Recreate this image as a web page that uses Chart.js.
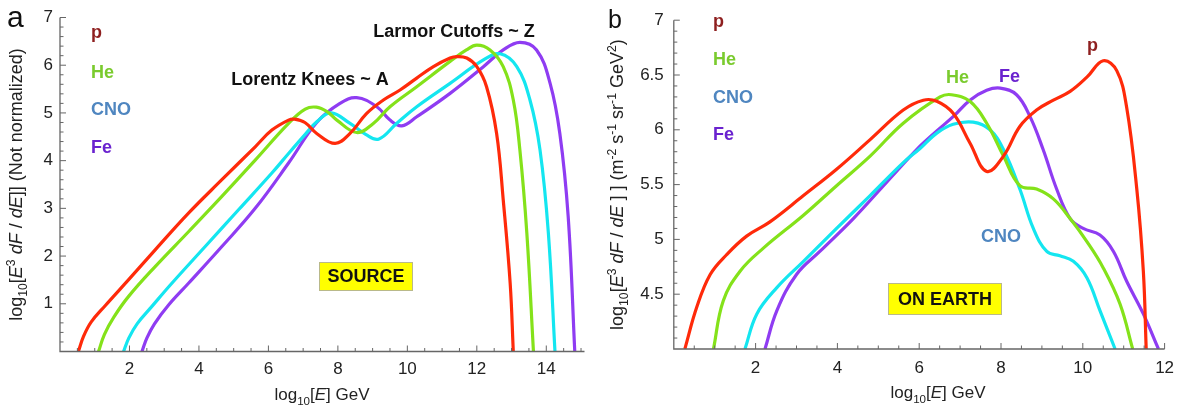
<!DOCTYPE html>
<html><head><meta charset="utf-8">
<script src="https://cdn.jsdelivr.net/npm/chart.js@4.4.0/dist/chart.umd.min.js"></script>
<style>
html,body{margin:0;padding:0;background:#fff;}
#wrap{position:relative;width:1192px;height:412px;overflow:hidden;}
.pane{position:absolute;top:0;width:596px;height:412px;}
</style></head><body>
<div id="wrap">
<div class="pane" style="left:0"><canvas id="ca" width="596" height="412"></canvas></div>
<div class="pane" style="left:596px"><canvas id="cb" width="596" height="412"></canvas></div>
</div>
<script>
// ---------- Panel a (SOURCE) ----------
const aP_x  = [0.53,0.68,0.90,1.30,1.97,2.74,3.70,4.66,5.62,6.10,6.58,6.75,7.05,7.39,7.92,8.35,8.83,9.31,9.79,10.27,10.75,11.23,11.42,11.71,12.00,12.28,12.57,12.76,12.96,13.05];
const aP_y  = [0,0.32,0.62,0.96,1.50,2.13,2.90,3.60,4.29,4.64,4.85,4.87,4.80,4.57,4.36,4.57,4.99,5.27,5.48,5.73,5.97,6.15,6.18,6.15,5.97,5.55,4.57,3.18,1.43,0];
const aHe_x = [1.11,1.28,1.55,1.97,2.74,3.70,4.66,5.62,6.58,7.06,7.38,7.70,7.97,8.54,9.02,9.50,10.27,11.23,11.70,12.00,12.38,12.76,13.05,13.24,13.44,13.63];
const aHe_y = [0,0.36,0.72,1.15,1.78,2.51,3.25,4.01,4.78,5.08,5.12,5.02,4.85,4.59,4.78,5.13,5.55,6.08,6.32,6.42,6.32,5.97,5.27,4.22,2.48,0];
const aCNO_x= [1.83,1.98,2.22,2.64,3.22,4.18,5.14,6.10,6.58,7.06,7.40,7.80,8.35,8.80,9.17,9.69,10.27,11.23,12.19,12.67,13.15,13.53,13.82,14.06,14.25];
const aCNO_y= [0,0.28,0.58,0.94,1.43,2.20,2.97,3.74,4.15,4.55,4.82,5.00,4.78,4.55,4.45,4.78,5.13,5.62,6.11,6.24,5.97,5.27,4.22,2.48,0];
const aFe_x = [2.36,2.50,2.72,3.12,3.70,4.66,5.62,6.58,7.39,8.06,8.54,9.12,9.50,9.84,10.27,11.23,12.19,12.76,13.24,13.72,14.11,14.39,14.63,14.82];
const aFe_y = [0,0.28,0.58,0.97,1.43,2.20,3.00,3.95,4.80,5.20,5.32,5.13,4.85,4.73,4.92,5.41,5.97,6.32,6.48,6.32,5.62,4.57,2.83,0];
const aXTicks = [2,4,6,8,10,12,14];
const aYTicks = [1,2,3,4,5,6,7];

// ---------- Panel b (ON EARTH) ----------
const bP_x  = [0.27,0.56,0.89,1.29,1.78,2.35,3.17,3.98,4.80,5.61,6.10,6.43,6.83,7.24,7.65,8.06,8.46,8.87,9.28,9.69,10.10,10.50,10.83,11.07,11.32,11.48,11.55];
const bP_y  = [4.0,4.38,4.68,4.86,5.03,5.16,5.40,5.64,5.91,6.18,6.27,6.26,6.15,5.88,5.62,5.76,6.03,6.18,6.27,6.35,6.48,6.63,6.54,6.21,5.46,4.71,4.0];
const bHe_x = [0.97,1.21,1.62,2.19,3.17,3.98,4.80,5.61,6.51,6.79,7.24,7.65,8.06,8.46,8.87,9.28,9.69,10.10,10.50,10.91,11.22];
const bHe_y = [4.0,4.44,4.71,4.92,5.22,5.49,5.76,6.06,6.30,6.32,6.26,6.06,5.76,5.49,5.46,5.37,5.19,4.98,4.74,4.41,4.0];
const bCNO_x= [1.74,2.03,2.52,3.17,3.98,4.80,5.61,6.02,6.43,6.83,7.32,7.73,8.06,8.46,8.79,9.12,9.44,9.77,10.10,10.42,10.79];
const bCNO_y= [4.0,4.32,4.56,4.80,5.10,5.40,5.70,5.83,5.97,6.05,6.07,6.00,5.82,5.46,5.10,4.89,4.85,4.80,4.65,4.35,4.0];
const bFe_x = [2.23,2.52,3.00,3.57,4.39,5.20,6.02,6.43,6.83,7.24,7.65,7.98,8.38,8.71,9.03,9.36,9.69,10.01,10.42,10.75,11.07,11.48,11.85];
const bFe_y = [4.0,4.35,4.68,4.89,5.19,5.52,5.85,5.99,6.12,6.27,6.36,6.38,6.32,6.12,5.82,5.46,5.19,5.10,5.04,4.89,4.62,4.32,4.0];
const bXTicks = [2,4,6,8,10,12];
const bYTicks = [4.5,5,5.5,6,6.5,7];

const species = ['p','He','CNO','Fe'];
const lineColors  = ['#ff2a0a','#84e21a','#14e6f0','#8f3cf2'];
const labelColors = ['#8e1f1f','#7acb2e','#4f86c0','#6a22cf'];

const FONT = '"Liberation Sans", Arial, Helvetica, sans-serif';

function pts(xs, ys){ return xs.map((x,i)=>({x:x, y:ys[i]})); }

function fontFor(st, size){
  const s = (st==='b'||st==='p') ? size*0.68 : size;
  return (st==='i' ? 'italic ' : '') + s.toFixed(1) + 'px ' + FONT;
}
function drawRich(ctx, runs, x, y, size, align){
  let w = 0;
  const items = runs.map(([t,st])=>{ ctx.font = fontFor(st,size); const mw = ctx.measureText(t).width; w += mw; return {t,st,mw}; });
  let cx = align==='center' ? x - w/2 : x;
  ctx.textAlign = 'left'; ctx.textBaseline = 'alphabetic';
  for (const it of items){
    ctx.font = fontFor(it.st,size);
    let dy = 0;
    if (it.st==='b') dy = size*0.28;
    if (it.st==='p') dy = -size*0.40;
    ctx.fillText(it.t, cx, y+dy);
    cx += it.mw;
  }
}

const xTitleRuns = [['log',''],['10','b'],['[',''],['E','i'],['] GeV','']];
const yTitleA = [['log',''],['10','b'],['[',''],['E','i'],['3','p'],[' ',''],['dF','i'],[' / ',''],['dE','i'],[']] (Not normalized)','']];
const yTitleB = [['log',''],['10','b'],['[',''],['E','i'],['3','p'],[' ',''],['dF','i'],[' / ',''],['dE','i'],[' ] ] (m',''],['-2','p'],[' s',''],['-1','p'],[' sr',''],['-1','p'],[' GeV',''],['2','p'],[')','']];

function makeDecor(cfg){
  return {
    id: 'decor',
    afterDatasetsDraw(chart){
      const ctx = chart.ctx, xs = chart.scales.x, ys = chart.scales.y, ca = chart.chartArea;
      ctx.save();
      // axes
      ctx.strokeStyle = '#666'; ctx.lineWidth = 1.3;
      ctx.beginPath();
      ctx.moveTo(ca.left, ca.top); ctx.lineTo(ca.left, ca.bottom); ctx.lineTo(ca.right, ca.bottom);
      ctx.stroke();
      ctx.lineWidth = 1;
      ctx.beginPath();
      for (let v = cfg.xMinor; v <= xs.max + 1e-9; v += cfg.xMinor){
        const px = xs.getPixelForValue(v);
        const major = Math.abs(v/cfg.xMajor - Math.round(v/cfg.xMajor)) < 1e-6;
        ctx.moveTo(px, ca.bottom); ctx.lineTo(px, ca.bottom - (major ? 6 : 3.5));
      }
      for (let v = ys.min + cfg.yMinor; v <= ys.max + 1e-9; v += cfg.yMinor){
        const py = ys.getPixelForValue(v);
        const major = Math.abs(v/cfg.yMajor - Math.round(v/cfg.yMajor)) < 1e-6;
        ctx.moveTo(ca.left, py); ctx.lineTo(ca.left + (major ? 6 : 3.5), py);
      }
      ctx.stroke();

      ctx.fillStyle = '#222';
      // x title
      drawRich(ctx, xTitleRuns, cfg.xTitle[0], cfg.xTitle[1], 17, 'center');
      // y title
      ctx.save();
      ctx.translate(cfg.yTitle[0], (ca.top + ca.bottom)/2);
      ctx.rotate(-Math.PI/2);
      drawRich(ctx, cfg.yRuns, 0, 0, cfg.yTitleSize, 'center');
      ctx.restore();
      // panel letter
      ctx.fillStyle = '#111';
      ctx.font = cfg.letter[3] + 'px ' + FONT;
      ctx.textAlign = 'left'; ctx.textBaseline = 'alphabetic';
      ctx.fillText(cfg.letter[0], cfg.letter[1], cfg.letter[2]);
      // legend labels
      ctx.font = 'bold ' + cfg.legendSize + 'px ' + FONT;
      species.forEach((s,i)=>{ ctx.fillStyle = labelColors[i]; ctx.fillText(s, cfg.legend[0], cfg.legend[1][i]); });
      // annotations
      cfg.notes.forEach(n=>{
        ctx.font = 'bold ' + n.size + 'px ' + FONT;
        ctx.fillStyle = n.color; ctx.textAlign = n.align || 'left';
        ctx.fillText(n.text, n.x, n.y);
      });
      // yellow box
      const b = cfg.box;
      ctx.fillStyle = '#ffff00'; ctx.fillRect(b.x, b.y, b.w, b.h);
      ctx.strokeStyle = '#b9b98a'; ctx.lineWidth = 1; ctx.strokeRect(b.x+0.5, b.y+0.5, b.w-1, b.h-1);
      ctx.fillStyle = '#111'; ctx.font = 'bold 18px ' + FONT;
      ctx.textAlign = 'center'; ctx.textBaseline = 'middle';
      ctx.fillText(b.text, b.x + b.w/2, b.y + b.h/2 + 1);
      ctx.restore();
    }
  };
}

function makeChart(id, series, xMax, yMin, yMax, xTicks, yTicks, geom, cfg){
  const datasets = series.map((s,i)=>({
    label: species[i], data: s, borderColor: lineColors[i], borderWidth: 3.2,
    pointRadius: 0, fill: false, tension: 0.4, clip: 0
  }));
  return new Chart(document.getElementById(id), {
    type: 'line',
    data: { datasets },
    options: {
      responsive: false, animation: false, events: [],
      layout: { padding: { left: 0, right: geom.padRight, top: geom.top, bottom: 0 } },
      plugins: { legend: { display: false }, tooltip: { enabled: false }, title: { display: false } },
      scales: {
        x: {
          type: 'linear', min: 0, max: xMax,
          grid: { display: false, drawTicks: false }, border: { display: false },
          afterBuildTicks: s => { s.ticks = xTicks.map(v=>({value:v})); },
          afterFit: s => { s.height = geom.xH; },
          ticks: { padding: geom.xPad, color: '#222', font: { family: FONT, size: geom.tickSize }, callback: v => String(v), maxRotation: 0, autoSkip: false }
        },
        y: {
          type: 'linear', min: yMin, max: yMax,
          grid: { display: false, drawTicks: false }, border: { display: false },
          afterBuildTicks: s => { s.ticks = yTicks.map(v=>({value:v})); },
          afterFit: s => { s.width = geom.yW; },
          ticks: { padding: geom.yPad, color: '#222', font: { family: FONT, size: geom.tickSize }, callback: v => String(v), autoSkip: false }
        }
      }
    },
    plugins: [makeDecor(cfg)]
  });
}

makeChart('ca',
  [pts(aP_x,aP_y), pts(aHe_x,aHe_y), pts(aCNO_x,aCNO_y), pts(aFe_x,aFe_y)],
  15.1, 0, 7, aXTicks, aYTicks,
  { padRight: 11.5, top: 17.5, xH: 60.5, yW: 60, xPad: 8, yPad: 7, tickSize: 17 },
  { xMinor: 0.5, xMajor: 2, yMinor: 0.2, yMajor: 1,
    xTitle: [322, 400], yTitle: [22], yRuns: yTitleA, yTitleSize: 18,
    letter: ['a', 7, 27, 30],
    legend: [91, [38, 78, 115, 152.5]], legendSize: 18,
    notes: [
      { text: 'Larmor Cutoffs ~ Z', x: 454, y: 36.5, size: 18, color: '#111', align: 'center' },
      { text: 'Lorentz Knees ~ A', x: 310, y: 85, size: 18, color: '#111', align: 'center' }
    ],
    box: { x: 319, y: 262, w: 94, h: 29, text: 'SOURCE' }
  });

makeChart('cb',
  [pts(bP_x,bP_y), pts(bHe_x,bHe_y), pts(bCNO_x,bCNO_y), pts(bFe_x,bFe_y)],
  12, 4, 7, bXTicks, bYTicks,
  { padRight: 27.4, top: 16, xH: 63, yW: 77.8, xPad: 9, yPad: 10, tickSize: 17 },
  { xMinor: 0.5, xMajor: 2, yMinor: 0.1, yMajor: 0.5,
    xTitle: [342, 398], yTitle: [27], yRuns: yTitleB, yTitleSize: 18,
    letter: ['b', 12, 28, 25],
    legend: [117, [27, 65, 103, 140]], legendSize: 18,
    notes: [
      { text: 'p', x: 491, y: 51, size: 18, color: labelColors[0] },
      { text: 'He', x: 350, y: 83, size: 18, color: labelColors[1] },
      { text: 'Fe', x: 403, y: 81.5, size: 18, color: labelColors[3] },
      { text: 'CNO', x: 385, y: 241.5, size: 18, color: labelColors[2] }
    ],
    box: { x: 292, y: 283, w: 114, h: 32, text: 'ON EARTH' }
  });
</script>
</body></html>
